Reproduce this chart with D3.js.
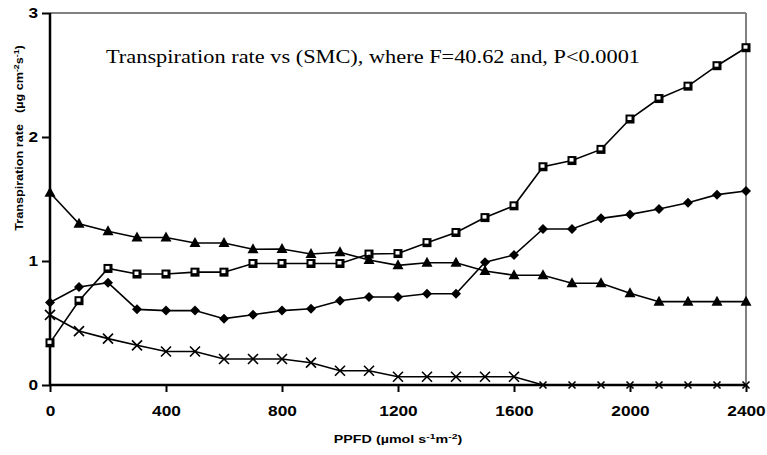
<!DOCTYPE html>
<html>
<head>
<meta charset="utf-8">
<script src="https://cdn.jsdelivr.net/npm/d3@7"></script>
<style>
  body { margin: 0; background: #fff; }
  .tick text { font-family: "Liberation Sans", Arial, sans-serif; font-weight: bold; font-size: 14px; fill: #000; }
</style>
</head>
<body>
<div id="chart"></div>
<script>
const ppfd = [0, 100, 200, 300, 400, 500, 600, 700, 800, 900, 1000, 1100, 1200,
  1300, 1400, 1500, 1600, 1700, 1800, 1900, 2000, 2100, 2200, 2300, 2400];

const squareSeries = [0.34, 0.68, 0.94, 0.895, 0.895, 0.91, 0.91, 0.98, 0.98, 0.98, 0.98, 1.056, 1.06,
  1.148, 1.23, 1.35, 1.445, 1.76, 1.81, 1.9, 2.145, 2.31, 2.41, 2.575, 2.72];
const diamondSeries = [0.665, 0.79, 0.825, 0.61, 0.6, 0.6, 0.535, 0.567, 0.6, 0.615, 0.68, 0.71, 0.71,
  0.736, 0.736, 0.99, 1.048, 1.258, 1.258, 1.344, 1.376, 1.42, 1.47, 1.535, 1.565];
const triangleSeries = [1.55, 1.3, 1.24, 1.19, 1.19, 1.145, 1.145, 1.095, 1.097, 1.056, 1.07, 1.008, 0.965,
  0.986, 0.986, 0.92, 0.885, 0.885, 0.82, 0.82, 0.74, 0.672, 0.672, 0.672, 0.672];
const crossSeries = [0.565, 0.435, 0.374, 0.32, 0.27, 0.27, 0.21, 0.21, 0.21, 0.18, 0.115, 0.115, 0.067,
  0.067, 0.067, 0.067, 0.067, 0, 0, 0, 0, 0, 0, 0, 0];

const xTicks = [0, 400, 800, 1200, 1600, 2000, 2400];
const yTicks = [0, 1, 2, 3];

const margin = { top: 13, right: 21, bottom: 70, left: 50 };
const W = 767, H = 455;
const width = W - margin.left - margin.right;
const height = H - margin.top - margin.bottom;

const x = d3.scaleLinear().domain([0, 2400]).range([0, width]);
const y = d3.scaleLinear().domain([0, 3]).range([height, 0]);

const svg = d3.select("#chart")
  .append("svg")
  .attr("width", W)
  .attr("height", H)
  .append("g")
  .attr("transform", `translate(${margin.left},${margin.top})`);

// gray frame top / right
svg.append("line").attr("x1", 0).attr("x2", width).attr("y1", 0).attr("y2", 0)
  .attr("stroke", "#808080").attr("stroke-width", 2);
svg.append("line").attr("x1", width).attr("x2", width).attr("y1", 0).attr("y2", height)
  .attr("stroke", "#808080").attr("stroke-width", 2);

// axes
const xAxis = svg.append("g")
  .attr("transform", `translate(0,${height})`)
  .call(d3.axisBottom(x).tickValues(xTicks).tickSize(7).tickPadding(14).tickFormat(d3.format("d")));
const yAxis = svg.append("g")
  .call(d3.axisLeft(y).tickValues(yTicks).tickSize(8).tickPadding(4).tickFormat(d3.format("d")));

[xAxis, yAxis].forEach(a => {
  a.select(".domain").attr("stroke", "#000").attr("stroke-width", 2.5);
  a.selectAll(".tick line").attr("stroke", "#000").attr("stroke-width", 2);
  // labels in the picture are drawn a little wider than the font
  a.selectAll(".tick text")
    .attr("textLength", d => String(d).length * 9.6)
    .attr("lengthAdjust", "spacingAndGlyphs");
});
xAxis.select(".domain").attr("d", `M0,0H${width}`);
yAxis.select(".domain").attr("d", `M0,${height}V0`);

// lines
const line = d3.line().x((d, i) => x(ppfd[i])).y(d => y(d));
const allSeries = [
  { values: crossSeries, marker: "cross" },
  { values: squareSeries, marker: "square" },
  { values: diamondSeries, marker: "diamond" },
  { values: triangleSeries, marker: "triangle" }
];

allSeries.forEach(s => {
  svg.append("path")
    .datum(s.values)
    .attr("fill", "none")
    .attr("stroke", "#000")
    .attr("stroke-width", 1.6)
    .attr("d", line);
});

allSeries.forEach(s => {
  const g = svg.append("g");
  s.values.forEach((v, i) => {
    const cx = x(ppfd[i]), cy = y(v);
    if (s.marker === "triangle") {
      g.append("path")
        .attr("d", `M${cx},${cy - 6}L${cx + 5.5},${cy + 4}L${cx - 5.5},${cy + 4}Z`)
        .attr("fill", "#000");
    } else if (s.marker === "diamond") {
      g.append("path")
        .attr("d", `M${cx},${cy - 5}L${cx + 5},${cy}L${cx},${cy + 5}L${cx - 5},${cy}Z`)
        .attr("fill", "#000");
    } else if (s.marker === "square") {
      g.append("rect")
        .attr("x", cx - 4.5).attr("y", cy - 4.5)
        .attr("width", 9).attr("height", 9)
        .attr("fill", "#000");
      g.append("rect")
        .attr("x", cx - 2.5).attr("y", cy - 2.5)
        .attr("width", 4).attr("height", 3.5)
        .attr("fill", "#fff");
    } else {
      const r = v === 0 ? 3.5 : 5;
      g.append("path")
        .attr("d", `M${cx - r},${cy - r}L${cx + r},${cy + r}M${cx - r},${cy + r}L${cx + r},${cy - r}`)
        .attr("stroke", "#000")
        .attr("stroke-width", 1.6);
    }
  });
});

// annotation
svg.append("text")
  .attr("x", 56)
  .attr("y", 50)
  .attr("font-family", "'Liberation Serif', 'Times New Roman', serif")
  .attr("font-size", "19px")
  .attr("fill", "#000")
  .attr("textLength", 534)
  .attr("lengthAdjust", "spacingAndGlyphs")
  .text("Transpiration rate vs (SMC), where F=40.62 and, P<0.0001");

// x axis title
const xt = svg.append("text")
  .attr("transform", `translate(${width / 2},${height + 58}) scale(1.3,1)`)
  .attr("text-anchor", "middle")
  .attr("font-family", "'Liberation Sans', Arial, sans-serif")
  .attr("font-weight", "bold")
  .attr("font-size", "11px")
  .attr("fill", "#000");
xt.append("tspan").text("PPFD (µmol  s");
xt.append("tspan").attr("dy", -4).attr("font-size", "8px").text("-1");
xt.append("tspan").attr("dy", 4).text("m");
xt.append("tspan").attr("dy", -4).attr("font-size", "8px").text("-2");
xt.append("tspan").attr("dy", 4).text(")");

// y axis title
const yt = svg.append("text")
  .attr("transform", `translate(-27,125) rotate(-90) scale(1.1,1)`)
  .attr("text-anchor", "middle")
  .attr("font-family", "'Liberation Sans', Arial, sans-serif")
  .attr("font-weight", "bold")
  .attr("font-size", "11.5px")
  .attr("fill", "#000");
yt.append("tspan").text("Transpiration rate");
yt.append("tspan").attr("dx", 10).text("(µg cm");
yt.append("tspan").attr("dy", -4).attr("font-size", "8px").text("-2");
yt.append("tspan").attr("dy", 4).text("s");
yt.append("tspan").attr("dy", -4).attr("font-size", "8px").text("-1");
yt.append("tspan").attr("dy", 4).text(")");
</script>
</body>
</html>
